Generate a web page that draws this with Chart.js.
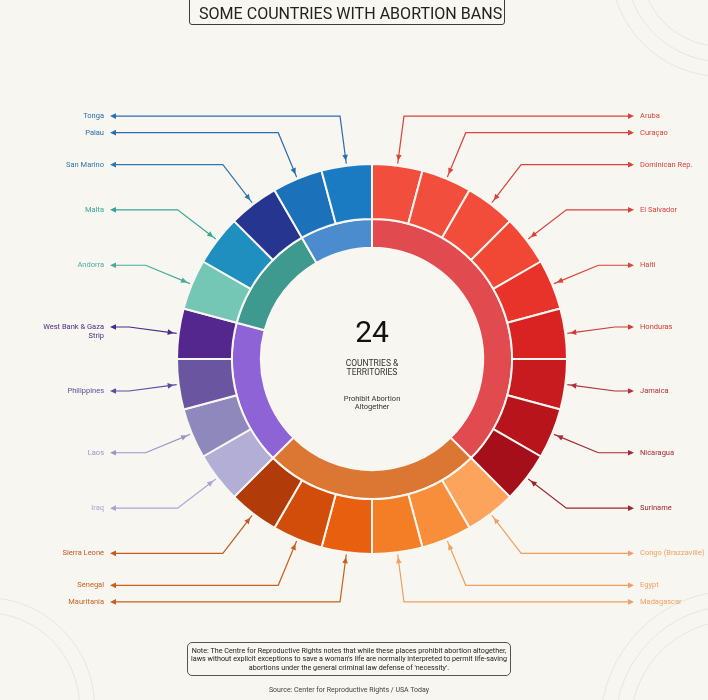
<!DOCTYPE html>
<html>
<head>
<meta charset="utf-8">
<title>Some countries with abortion bans</title>
<script src="https://cdn.jsdelivr.net/npm/chart.js@4.4.0/dist/chart.umd.min.js"></script>
<style>
    body { margin: 0; background: #f8f6f0; font-family: Roboto, "Open Sans", sans-serif; }
    #wrap { position: relative; width: 708px; height: 700px; overflow: hidden; }
    #chart { position: absolute; left: 0; top: 0; }
    .title {
        position: absolute; left: 189px; top: -4px; width: 316px; height: 29px;
        border: 1.5px solid #3c3c3c; border-radius: 3px; box-sizing: border-box;
        font-size: 17px; color: #222; text-align: center; line-height: 32px;
        background: #f9f7f1; white-space: nowrap; overflow: hidden;
    }
    .title span { display: inline-block; transform-origin: center; }
    .note {
        position: absolute; left: 187px; top: 642px; width: 324px; height: 34px;
        border: 1.3px solid #555; border-radius: 5px; box-sizing: border-box;
        font-size: 7.2px; line-height: 8.3px; color: #222; text-align: center;
        padding-top: 4px;
    }
    .source {
        position: absolute; left: 187px; width: 324px; top: 686px;
        font-size: 7px; color: #444; text-align: center;
    }
    .ring { position: absolute; border-radius: 50%; border: 1.5px solid #e9e6de; box-sizing: border-box; }
</style>
</head>
<body>
<div id="wrap">
    <div class="ring" style="left:640px;top:-117px;width:164px;height:164px"></div>
    <div class="ring" style="left:625px;top:-132px;width:194px;height:194px"></div>
    <div class="ring" style="left:610px;top:-147px;width:224px;height:224px"></div>
    <div class="ring" style="left:-110px;top:612px;width:190px;height:190px"></div>
    <div class="ring" style="left:-125px;top:597px;width:220px;height:220px"></div>
    <div class="ring" style="left:630px;top:620px;width:210px;height:210px"></div>
    <div class="ring" style="left:615px;top:605px;width:240px;height:240px"></div>
    <div class="ring" style="left:600px;top:590px;width:270px;height:270px"></div>
    <canvas id="chart" width="708" height="700"></canvas>
    <div class="title"><span id="title-text">SOME COUNTRIES WITH ABORTION BANS</span></div>
    <div class="note">Note: The Centre for Reproductive Rights notes that while these places prohibit abortion altogether,<br>laws without explicit exceptions to save a woman's life are normally interpreted to permit life-saving<br>abortions under the general criminal law defense of 'necessity'.</div>
    <div class="source">Source: Center for Reproductive Rights / USA Today</div>
</div>
<script>
// Data
const countries = ['Aruba', 'Curaçao', 'Dominican Rep.', 'El Salvador', 'Haiti', 'Honduras', 'Jamaica', 'Nicaragua', 'Suriname',
    'Congo (Brazzaville)', 'Egypt', 'Madagascar', 'Mauritania', 'Senegal', 'Sierra Leone',
    'Iraq', 'Laos', 'Philippines', 'West Bank & Gaza Strip',
    'Andorra', 'Malta', 'San Marino',
    'Palau', 'Tonga'];
const countryValues = [1, 1, 1, 1, 1, 1, 1, 1, 1, 1, 1, 1, 1, 1, 1, 1, 1, 1, 1, 1, 1, 1, 1, 1];
const regions = ['Americas', 'Africa', 'Asia', 'Europe', 'Oceania'];
const regionCounts = [9, 6, 4, 3, 2];

// Styles
const countryColors = ['#f24e3e', '#f24e3d', '#f24d3a', '#f04834', '#e8332a', '#d92323', '#c81b20', '#b8141c', '#a50f1a',
    '#fca35c', '#f98e3a', '#f47e25', '#e85f10', '#d24c0a', '#b13b09',
    '#b2aed5', '#8e88bd', '#6a55a0', '#54278f',
    '#74c7b5', '#1f8fbf', '#263590',
    '#1b72bb', '#1b7bc2'];
const labelColors = ['#d8433a', '#d8433a', '#d8433a', '#d8433a', '#d8433a', '#d23b35', '#b3303d', '#a52a35', '#9c2530',
    '#f0a060', '#f0a060', '#f0a060', '#c9601e', '#c9601e', '#c35a24',
    '#a9a5d3', '#9a95c8', '#5c4ca0', '#4a2a88',
    '#4aaa9a', '#3aa596', '#2f78ac',
    '#2a6db0', '#2a6db0'];
const regionColors = ['#e14a4f', '#db7733', '#8d63d6', '#3e9a8f', '#4b8cce'];
const bg = '#f8f6f0';

// Fit title text to the box
const titleText = document.getElementById('title-text');
titleText.style.transform = 'scaleX(' + (303 / titleText.offsetWidth) + ')';

function arrowHead(ctx, x, y, ang, color) {
    ctx.save();
    ctx.translate(x, y);
    ctx.rotate(ang);
    ctx.fillStyle = color;
    ctx.beginPath();
    ctx.moveTo(0, 0);
    ctx.lineTo(-6, -2.8);
    ctx.lineTo(-6, 2.8);
    ctx.closePath();
    ctx.fill();
    ctx.restore();
}

function wrap(ctx, text, maxW) {
    const words = text.split(' ');
    const lines = [];
    let cur = '';
    words.forEach(w => {
        const test = cur ? cur + ' ' + w : w;
        if (ctx.measureText(test).width > maxW && cur) { lines.push(cur); cur = w; }
        else cur = test;
    });
    lines.push(cur);
    return lines;
}

// Callout labels and center text
const calloutPlugin = {
    id: 'callouts',
    afterDatasetsDraw(chart) {
        const ctx = chart.ctx;
        const arcs = chart.getDatasetMeta(0).data;
        let cx = 0, cy = 0;
        ctx.save();
        ctx.font = '7.5px Roboto';
        ctx.textBaseline = 'middle';
        ctx.lineWidth = 1.2;
        arcs.forEach((arc, i) => {
            const p = arc.getProps(['x', 'y', 'startAngle', 'endAngle', 'outerRadius'], true);
            cx = p.x; cy = p.y;
            const mid = (p.startAngle + p.endAngle) / 2;
            const c = Math.cos(mid), s = Math.sin(mid);
            const right = c >= 0;
            const dir = right ? 1 : -1;
            const tx = p.x + (p.outerRadius + 5) * c, ty = p.y + (p.outerRadius + 5) * s;
            const bx = p.x + (p.outerRadius + 50) * c, by = p.y + (p.outerRadius + 50) * s;
            const ex = p.x + dir * 262;
            const col = labelColors[i];
            ctx.strokeStyle = col;
            ctx.beginPath();
            ctx.moveTo(tx - 3 * c, ty - 3 * s);
            ctx.lineTo(bx, by);
            ctx.lineTo(ex - dir * 3, by);
            ctx.stroke();
            arrowHead(ctx, tx, ty, Math.atan2(ty - by, tx - bx), col);
            arrowHead(ctx, ex, by, right ? 0 : Math.PI, col);
            ctx.fillStyle = col;
            ctx.textAlign = right ? 'left' : 'right';
            const lines = wrap(ctx, countries[i], 70);
            lines.forEach((ln, k) => ctx.fillText(ln, p.x + dir * 268, by + k * 8.7));
        });

        const total = countryValues.reduce((a, b) => a + b, 0);
        ctx.fillStyle = '#111';
        ctx.textAlign = 'center';
        ctx.font = '30px Roboto';
        ctx.fillText(String(total), cx, cy - 25);
        ctx.fillStyle = '#333';
        ctx.font = '8.5px Roboto';
        ctx.fillText('COUNTRIES &', cx, cy + 5);
        ctx.fillText('TERRITORIES', cx, cy + 14);
        ctx.font = '7.5px Roboto';
        ctx.fillText('Prohibit Abortion', cx, cy + 40);
        ctx.fillText('Altogether', cx, cy + 48);
        ctx.restore();
    }
};

new Chart(document.getElementById('chart').getContext('2d'), {
    type: 'doughnut',
    data: {
        labels: countries,
        datasets: [
            { label: 'Countries', data: countryValues, backgroundColor: countryColors, weight: 55 },
            { label: 'Regions', data: regionCounts, backgroundColor: regionColors, weight: 29 }
        ]
    },
    options: {
        responsive: false,
        animation: false,
        cutout: '57%',
        layout: { padding: { left: 176, right: 140, top: 163, bottom: 145 } },
        elements: { arc: { borderWidth: 2, borderColor: bg, offset: 0, hoverOffset: 0 } },
        plugins: { legend: { display: false }, tooltip: { enabled: false } }
    },
    plugins: [calloutPlugin]
});
</script>
</body>
</html>
